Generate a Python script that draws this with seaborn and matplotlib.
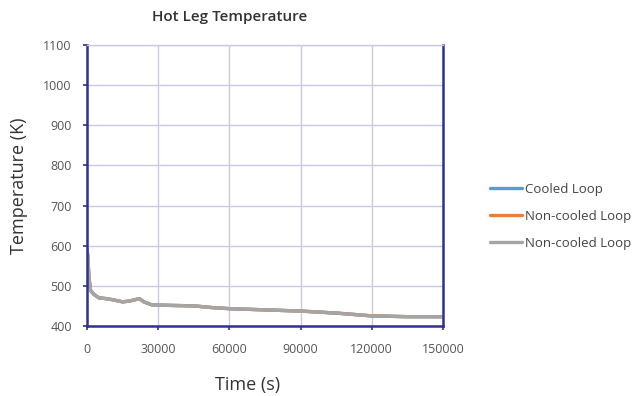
import numpy as np
import pandas as pd
import matplotlib
matplotlib.use("Agg")
import matplotlib.pyplot as plt
import seaborn as sns

# Hot leg temperature history (K) vs time (s)
time_s = [0, 300, 800, 1500, 3000, 5000, 8000, 11000, 15000, 18000, 20000, 22000,
          24000, 27000, 30000, 36000, 45000, 52000, 60000, 75000, 90000, 105000,
          120000, 135000, 150000]
cooled_loop = [590, 575, 520, 488, 478, 470, 468, 465, 460, 462, 465, 468,
               460, 453, 452, 451, 450, 446, 443, 440, 437, 432,
               425, 423, 423]
noncooled_loop_a = list(cooled_loop)
noncooled_loop_b = list(cooled_loop)

series_names = ["Cooled Loop", "Non-cooled Loop", "Non-cooled Loop "]
series_values = [cooled_loop, noncooled_loop_a, noncooled_loop_b]
series_colors = ["#5b9bd5", "#ed7d31", "#a5a5a5"]

x_ticks = [0, 30000, 60000, 90000, 120000, 150000]
y_ticks = [400, 500, 600, 700, 800, 900, 1000, 1100]

df = pd.concat(
    [pd.DataFrame({"Time (s)": time_s, "Temperature (K)": v, "Loop": n})
     for n, v in zip(series_names, series_values)],
    ignore_index=True,
)

sns.set_theme(style="white")
plt.rcParams["font.family"] = ["Open Sans", "DejaVu Sans"]

fig = plt.figure(figsize=(6.4, 3.96), dpi=100)
ax = fig.add_axes([0.136, 0.177, 0.556, 0.709])

sns.lineplot(data=df, x="Time (s)", y="Temperature (K)", hue="Loop",
             palette=dict(zip(series_names, series_colors)), linewidth=2.4,
             ax=ax, legend=True, estimator=None, sort=False)

ax.set_xlim(0, 150000)
ax.set_ylim(400, 1100)
ax.set_xticks(x_ticks)
ax.set_yticks(y_ticks)
ax.set_xticklabels([str(t) for t in x_ticks], fontsize=9, color="#555555")
ax.set_yticklabels([str(t) for t in y_ticks], fontsize=9, color="#555555")
ax.tick_params(axis="both", length=3, width=1.2, color="#2e3192")
ax.tick_params(axis="x", direction="out", bottom=True, pad=9)
ax.tick_params(axis="y", direction="out", left=True, pad=8)

ax.grid(True, color="#c9c9e3", linewidth=1.0)
ax.set_axisbelow(True)
for side in ["left", "bottom", "right"]:
    ax.spines[side].set_color("#2e3192")
    ax.spines[side].set_linewidth(1.8)
ax.spines["top"].set_color("#c9c9e3")
ax.spines["top"].set_linewidth(1.0)

ax.set_xlabel("Time (s)", fontsize=13, color="#333333")
ax.xaxis.set_label_coords(0.45, -0.18)
ax.set_ylabel("Temperature (K)", fontsize=13, color="#333333")
ax.yaxis.set_label_coords(-0.165, 0.5)
fig.text(0.359, 0.958, "Hot Leg Temperature", fontsize=11, color="#333333",
         fontweight="semibold", ha="center", va="center")

handles, labels = ax.get_legend_handles_labels()
leg = ax.legend(handles, labels, loc="center left", bbox_to_anchor=(1.1, 0.39),
                frameon=False, fontsize=9.5, handlelength=2.4, handletextpad=0.25,
                labelspacing=1.05)
for t in leg.get_texts():
    t.set_color("#444444")

fig.savefig("out.png", dpi=100, facecolor="white")
